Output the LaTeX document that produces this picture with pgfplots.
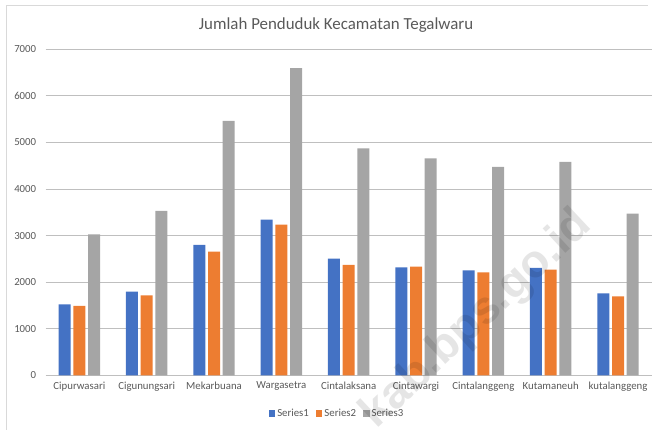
\documentclass[border=0pt]{standalone}
\usepackage{pgfplots}
\pgfplotsset{compat=1.18}
\usepackage{fontspec}
\setmainfont{Carlito}
\newfontfamily\wmfont{Liberation Sans}
\definecolor{sone}{HTML}{4472C4}
\definecolor{stwo}{HTML}{ED7D31}
\definecolor{sthree}{HTML}{A5A5A5}
\definecolor{txt}{HTML}{595959}
\definecolor{grid}{HTML}{D9D9D9}
\begin{document}
\begin{tikzpicture}
\path[use as bounding box] (-45.7pt,-54.7pt) rectangle (611.3pt,375.3pt);
\draw[grid, line width=0.9pt] (-39.7pt,-54.7pt) -- (-39.7pt,370.3pt) -- (602.3pt,370.3pt);
\begin{axis}[
  at={(0pt,0pt)}, anchor=south west,
  scale only axis, width=606pt, height=326pt,
  ybar=2.7pt, bar width=12pt,
  xmin=-0.5, xmax=8.5, ymin=0, ymax=7000,
  enlarge x limits=false,
  xtick=data,
  xticklabels={Cipurwasari,Cigunungsari,Mekarbuana,Wargasetra,Cintalaksana,Cintawargi,Cintalanggeng,Kutamaneuh,kutalanggeng},
  ytick={0,1000,...,7000},
  /pgf/number format/assume math mode=true,
  /pgf/number format/1000 sep={},
  ymajorgrids, xmajorgrids=false, grid style={grid, line width=0.8pt},
  major tick length=0pt,
  axis line style={draw=none},
  ticklabel style={font=\fontsize{10.8}{13}\selectfont, text=txt},
  yticklabel style={xshift=-6pt},
  xticklabel style={yshift=-3pt},
  legend style={draw=none, at={(0.4807,-0.1187)}, anchor=center, legend columns=3,
    font=\fontsize{10.8}{13}\selectfont, text=txt, inner sep=0pt,
    /tikz/every even column/.append style={column sep=5pt}},
  legend image code/.code={\fill[#1,draw=none] (0pt,-3pt) rectangle (6.5pt,3.5pt);},
  clip=false,
]
\addplot[fill=sone, draw=none] coordinates {(0,1525) (1,1797) (2,2799) (3,3343) (4,2505) (5,2319) (6,2255) (7,2305) (8,1761)};
\addplot[fill=stwo, draw=none] coordinates {(0,1489) (1,1718) (2,2656) (3,3236) (4,2369) (5,2334) (6,2212) (7,2269) (8,1697)};
\addplot[fill=sthree, draw=none] coordinates {(0,3028) (1,3529) (2,5462) (3,6593) (4,4875) (5,4660) (6,4474) (7,4581) (8,3472)};
\legend{Series1,Series2,Series3}
\end{axis}
\node[text=txt, font=\fontsize{16.9}{20}\selectfont] at (290.3pt,350.3pt) {Jumlah Penduduk Kecamatan Tegalwaru};
\node[text=black, text opacity=0.1, rotate=43, font=\wmfont\bfseries\fontsize{46}{50}\selectfont] at (431.3pt,55.3pt) {kab.bps.go.id};
\end{tikzpicture}
\end{document}
